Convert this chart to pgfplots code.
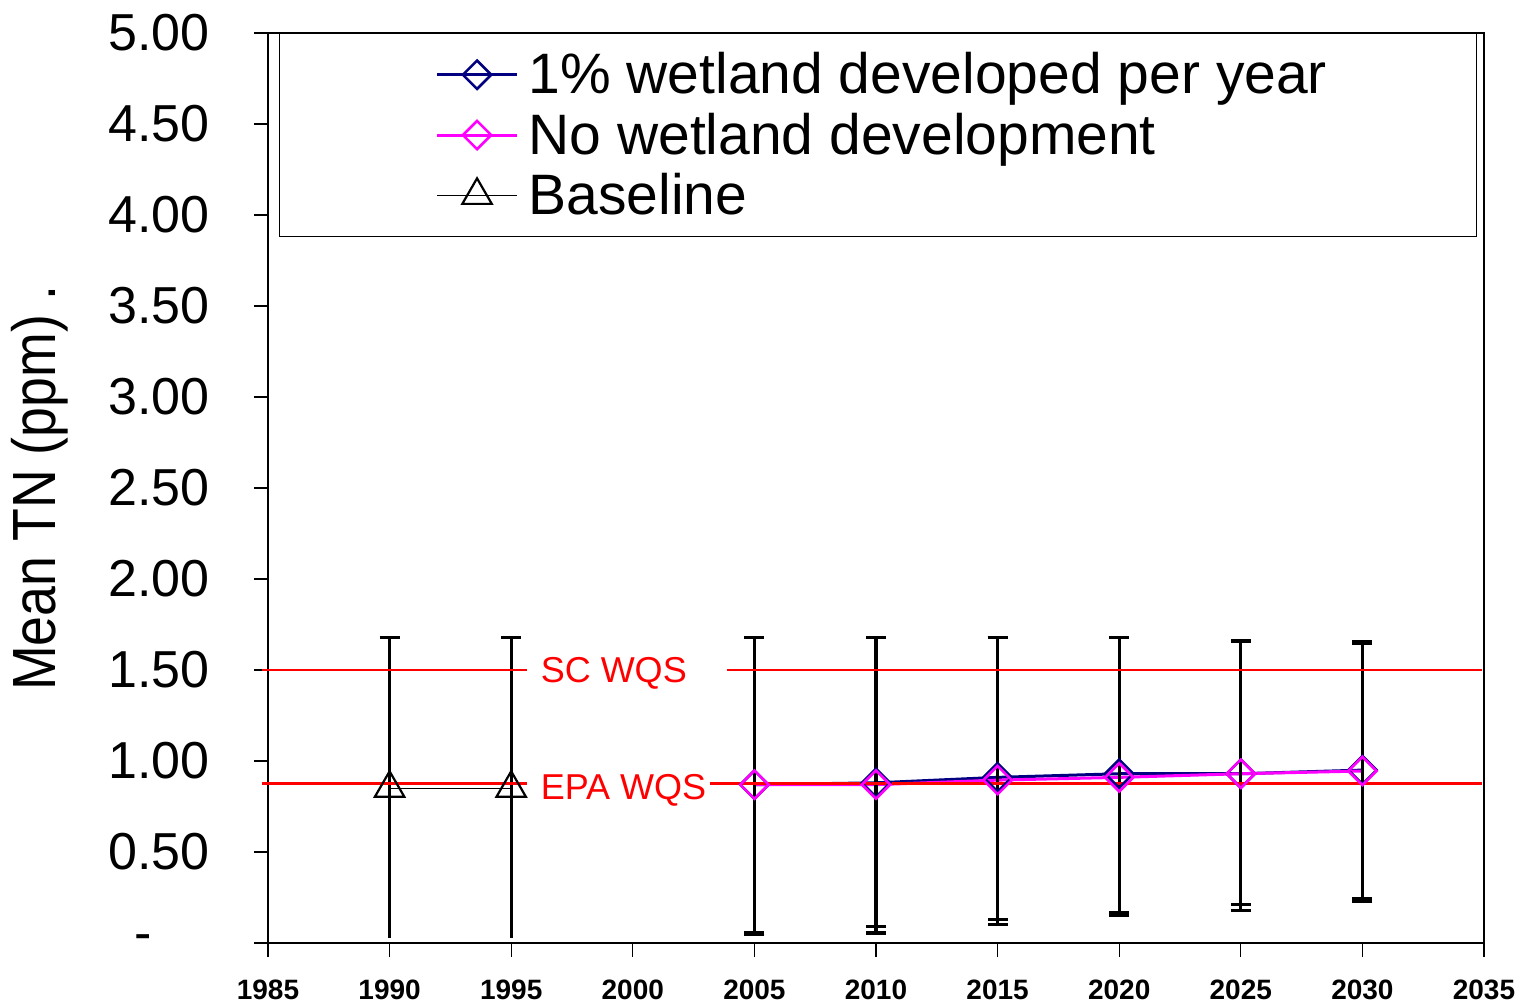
\documentclass[border=0pt]{standalone}
\usepackage{pgfplots}
\pgfplotsset{compat=1.18}
\usepackage{fontspec}
\setmainfont{Liberation Sans}
\definecolor{navyc}{RGB}{0,0,128}
\definecolor{magc}{RGB}{255,0,255}
\definecolor{wqsred}{RGB}{255,0,0}

\pgfplotstableread{
x y ep em
2005 0.870 0.810 0.815
2010 0.880 0.800 0.790
2015 0.910 0.770 0.780
2020 0.930 0.750 0.762
2025 0.930 0.730 0.720
2030 0.950 0.705 0.705
}\navydata
\pgfplotstableread{
x y ep em
2005 0.870 0.810 0.825
2010 0.870 0.810 0.815
2015 0.895 0.785 0.795
2020 0.910 0.770 0.760
2025 0.930 0.725 0.750
2030 0.945 0.700 0.715
}\magdata
\pgfplotstableread{
x y ep em
1990 0.850 0.830 0.820
1995 0.850 0.830 0.820
}\basedata

\begin{document}
\begin{tikzpicture}
\useasboundingbox (-134pt,-31pt) rectangle (631pt,471.5pt);
\begin{axis}[
  scale only axis, width=608pt, height=455pt,
  xmin=1985, xmax=2035, ymin=0, ymax=5,
  xtick={1985,1990,1995,2000,2005,2010,2015,2020,2025,2030,2035},
  xticklabels={1985,1990,1995,2000,2005,2010,2015,2020,2025,2030,2035},
  ytick={0,0.5,1,1.5,2,2.5,3,3.5,4,4.5,5},
  yticklabels={{-\hphantom{00}},0.50,1.00,1.50,2.00,2.50,3.00,3.50,4.00,4.50,5.00},
  clip=false,
  axis line style={line width=0.7pt},
  tick style={black, line width=0.6pt},
  tick align=outside, tick pos=left, major tick length=7pt,
  yticklabel style={font=\fontsize{26}{30}\selectfont, inner sep=0pt, xshift=-22pt},
  xticklabel style={font=\bfseries\fontsize{14}{16}\selectfont, inner sep=0pt, yshift=-11.5pt},
  ylabel={\scalebox{0.88}[1]{Mean TN (ppm) .}},
  ylabel style={font=\fontsize{30.5}{34}\selectfont, at={(axis description cs:-0.1875,0.5)}, anchor=center},
  legend cell align=left,
  legend image code/.code={\path (-72pt,0pt); \draw[mark repeat=2,mark phase=2,#1] plot coordinates {(0pt,0pt) (20pt,0pt) (40pt,0pt)};},
  legend style={at={(rel axis cs:0.009,1)}, anchor=north west, draw=black, line width=0.6pt,
    inner xsep=6pt, inner ysep=9.5pt, column sep=5pt, row sep=8pt,
    font=\fontsize{28.5}{30}\selectfont, nodes={inner sep=0pt}},
  error bars/error bar style={black, line width=1.6pt},
  error bars/error mark options={black, rotate=90, mark size=5pt, line width=1.6pt},
]
% 1% wetland developed
\addplot[navyc, line width=1.5pt, mark=square, mark size=5pt, mark options={rotate=45, line width=1.3pt, solid},
  error bars/.cd, y dir=both, y explicit]
  table[x=x, y=y, y error plus=ep, y error minus=em] {\navydata};
\addlegendentry{\makebox[468pt][l]{1\% wetland developed per year}}
% No wetland development
\addplot[magc, line width=1.5pt, mark=square, mark size=5pt, mark options={rotate=45, line width=1.3pt, solid},
  error bars/.cd, y dir=both, y explicit]
  table[x=x, y=y, y error plus=ep, y error minus=em] {\magdata};
\addlegendentry{\makebox[468pt][l]{No wetland development}}
% Baseline
\addplot[black, line width=0.6pt, mark=triangle, mark size=8.5pt, mark options={line width=1.1pt, solid},
  error bars/.cd, y dir=plus, y explicit]
  table[x=x, y=y, y error plus=ep, y error minus=em] {\basedata};
\addlegendentry{\makebox[468pt][l]{Baseline}}
\addplot[draw=none, mark=none, forget plot,
  error bars/.cd, y dir=minus, y explicit, error mark=none]
  table[x=x, y=y, y error plus=ep, y error minus=em] {\basedata};
% water quality standards
\addplot[wqsred, line width=1.3pt, forget plot] coordinates {(1984.75,1.5) (1995.65,1.5)};
\addplot[wqsred, line width=1.3pt, forget plot] coordinates {(2003.87,1.5) (2034.92,1.5)};
\addplot[wqsred, line width=1.3pt, forget plot] coordinates {(1984.75,0.875) (1995.65,0.875)};
\addplot[wqsred, line width=1.3pt, forget plot] coordinates {(2003.17,0.875) (2034.92,0.875)};
\node[anchor=base west, text=wqsred, font=\fontsize{18}{20}\selectfont, inner sep=0pt] at (axis cs:1996.2,1.43) {SC WQS};
\node[anchor=base west, text=wqsred, font=\fontsize{18}{20}\selectfont, inner sep=0pt] at (axis cs:1996.2,0.79) {EPA WQS};
\end{axis}
\end{tikzpicture}
\end{document}
